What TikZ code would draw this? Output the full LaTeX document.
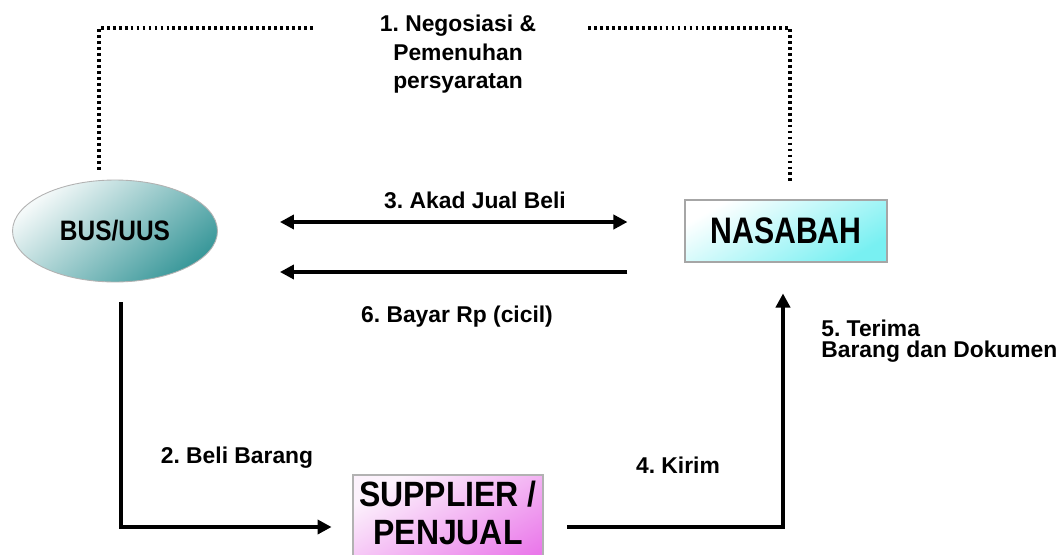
\documentclass[tikz,border=0pt]{standalone}
\usepackage{fontspec}
\setmainfont{Liberation Sans}
\usetikzlibrary{arrows.meta,shapes.geometric,calc}
\definecolor{tealdark}{HTML}{3A989A}
\definecolor{teallight}{HTML}{F4F9F9}
\definecolor{cyandark}{HTML}{78F0F2}
\definecolor{pinklight}{HTML}{FCF2FC}
\definecolor{pinkdark}{HTML}{EA78EA}
\frenchspacing
\begin{document}
\begin{tikzpicture}[x=0.02cm,y=-0.02cm,
  lbl/.style={font=\fontsize{13}{16}\selectfont\bfseries, inner sep=0pt},
  arr/.style={line width=2pt, -{Triangle[length=8pt,width=8pt]}},
  dblarr/.style={line width=2pt, {Triangle[length=8pt,width=8pt]}-{Triangle[length=8pt,width=8pt]}},
  dots/.style={line width=1.8pt, dash pattern=on 1.6pt off 1.8pt},
  bigtext/.style={font=\bfseries, inner sep=0pt, align=center}]
\useasboundingbox (0,0) rectangle (1063,555);
\clip (0,0) rectangle (1063,555);
\fill[white] (0,0) rectangle (1063,555);

% main nodes
\node[ellipse, draw=gray!60, line width=0.5pt, minimum width=4.1cm, minimum height=2.04cm,
      top color=teallight, bottom color=tealdark, shading angle=40, inner sep=0pt]
      (bus) at (115,231) {\fontsize{16}{18}\selectfont\bfseries\scalebox{0.87}[1]{BUS/UUS}};
\node[draw=gray!70, line width=0.6pt, minimum width=4.04cm, minimum height=1.24cm,
      top color=white, bottom color=cyandark, shading angle=30, inner sep=0pt]
      (nas) at (786,231) {\fontsize{21}{24}\selectfont\bfseries\scalebox{0.82}[1]{NASABAH}};
\node[draw=gray!60, line width=0.6pt, minimum width=3.8cm, minimum height=2.08cm,
      top color=pinklight, bottom color=pinkdark, shading angle=30, inner sep=0pt]
      (sup) at (448,527) {};
\node[bigtext, font=\fontsize{20}{21.6}\selectfont\bfseries] (suptext) at (448,513)
      {\scalebox{0.91}[1]{SUPPLIER /}\\\scalebox{0.91}[1]{PENJUAL}};

% dotted negotiation line
\coordinate (d1) at (313,28);
\coordinate (d2) at (588,28);
\draw[dots] ($(bus.north)+(-16,-10)$) |- (d1);
\draw[dots] (d2) -| ($(nas.north)+(4,-18)$);

% arrows
\draw[dblarr] ($(bus.east)+(62,-9)$) -- ($(nas.west)+(-57,-9)$);
\draw[arr] ($(nas.west)+(-57,41)$) -- ($(bus.east)+(62,41)$);
\draw[arr, shorten >=11.9pt] ($(bus.south)+(6,20)$) |- (sup.west);
\draw[arr, shorten <=13.6pt, shorten >=17.6pt] (sup.east) -| ($(nas.south)+(-3,0)$);

% labels
\node[lbl, align=center, anchor=north] (l1) at (458,15) {1. Negosiasi \&\\Pemenuhan\\persyaratan};
\node[lbl, anchor=base] (l3) at (475,208) {3. Akad Jual Beli};
\node[lbl, anchor=base] (l6) at (457,322) {6. Bayar Rp (cicil)};
\node[lbl, anchor=base] (l2) at (237,463) {2. Beli Barang};
\node[lbl, anchor=base] (l4) at (678,473) {4. Kirim};
\node[lbl, font=\fontsize{13}{12}\selectfont\bfseries, align=left, anchor=north west] (l5) at (821,320)
      {5. Terima\\Barang dan Dokumen};
\end{tikzpicture}
\end{document}
